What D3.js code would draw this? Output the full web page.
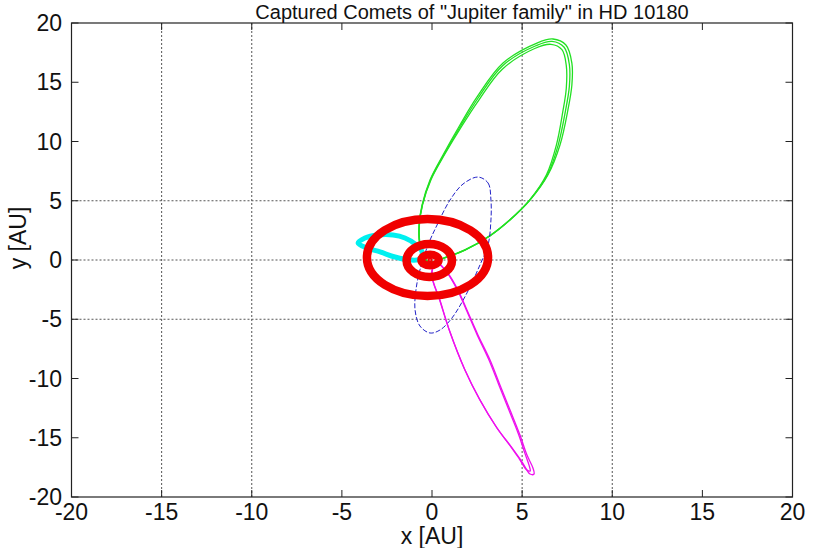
<!DOCTYPE html>
<html><head><meta charset="utf-8">
<script src="https://cdn.jsdelivr.net/npm/d3@7"></script>
<style>body{margin:0;background:#fff}</style>
</head><body>
<svg id="chart" width="814" height="548"></svg>
<script>
const xTicks = [-20,-15,-10,-5,0,5,10,15,20];
const yTicks = [-20,-15,-10,-5,0,5,10,15,20];
const xGrid = [-15,-10,5,10];
const yGrid = [-5,0,5];
const titleText = 'Captured Comets of "Jupiter family" in HD 10180';
const xLabel = "x [AU]";
const yLabel = "y [AU]";

// comet orbits (AU)
const greenLoop1 = [[-0.22,-0.17],[-0.67,1.27],[-0.72,2.95],[-0.55,4.64],[-0.11,6.75],[0.61,8.86],[1.55,11.39],[2.50,13.76],[3.94,16.62],[5.82,18.31],[6.71,18.65],[7.43,18.14],[7.76,16.62],[7.76,14.77],[7.54,12.66],[7.10,9.70],[6.43,7.17],[5.44,5.06],[4.33,3.38],[3.22,2.03],[1.83,0.84],[0.83,0.25]];
const greenLoop2 = [[-0.20,-0.15],[-0.65,1.30],[-0.70,2.95],[-0.52,4.70],[-0.05,6.80],[0.70,8.90],[1.65,11.30],[2.60,13.50],[3.90,16.10],[5.70,17.85],[6.60,18.20],[7.21,17.75],[7.45,16.40],[7.45,14.50],[7.25,12.45],[6.90,9.70],[6.35,7.20],[5.42,5.08],[4.32,3.40],[3.20,2.05],[1.82,0.85],[0.82,0.26]];
const greenLoop3 = [[-0.21,-0.16],[-0.66,1.28],[-0.71,2.95],[-0.53,4.67],[-0.08,6.78],[0.66,8.88],[1.60,11.35],[2.55,13.65],[3.92,16.40],[5.76,18.08],[6.66,18.45],[7.33,17.95],[7.62,16.50],[7.62,14.65],[7.40,12.55],[7.00,9.70],[6.40,7.18],[5.43,5.07],[4.33,3.39],[3.21,2.04],[1.82,0.84],[0.82,0.25]];
const blueLoop = [[2.55,7.00],[3.11,6.50],[3.27,5.06],[3.27,3.38],[3.11,1.27],[2.66,-0.42],[1.94,-2.78],[1.11,-4.89],[0.44,-5.91],[-0.11,-6.16],[-0.67,-5.57],[-0.94,-4.22],[-0.89,-2.53],[-0.67,-0.84],[-0.22,1.27],[0.28,2.95],[1.00,5.06],[1.72,6.41]];
const magentaLoop1 = [[0.22,-0.17],[0.83,-1.01],[1.44,-2.53],[1.94,-4.22],[2.55,-6.33],[3.22,-8.44],[3.77,-10.55],[4.33,-12.66],[4.88,-14.77],[5.27,-16.46],[5.60,-17.55],[5.66,-18.06],[5.44,-18.06],[5.00,-17.05],[4.44,-15.86],[3.61,-14.18],[2.66,-11.81],[1.83,-9.28],[1.00,-6.08],[0.44,-3.38],[0.00,-1.27]];
const magentaLoop2 = [[0.20,-0.15],[0.80,-1.00],[1.40,-2.50],[1.90,-4.20],[2.50,-6.30],[3.15,-8.40],[3.70,-10.50],[4.25,-12.60],[4.80,-14.70],[5.15,-16.30],[5.40,-17.40],[5.45,-17.80],[5.25,-17.70],[4.85,-16.80],[4.35,-15.70],[3.55,-14.05],[2.62,-11.70],[1.80,-9.20],[0.98,-6.02],[0.42,-3.35],[-0.02,-1.25]];
const cyanLoop = [[-4.10,1.43],[-3.72,1.86],[-3.00,2.11],[-2.16,2.11],[-1.50,1.86],[-0.94,1.35],[-0.55,0.68],[-0.67,0.08],[-1.22,0.00],[-2.05,0.25],[-2.88,0.68],[-3.61,1.01]];

// planet orbits (AU): centre and semi-axes
const planetCx = [-0.11, -0.11, -0.15, -0.25];
const planetCy = [0.00, 0.00, -0.04, 0.21];
const planetRx = [0.06, 0.49, 1.26, 3.36];
const planetRy = [0.06, 0.46, 1.39, 3.25];

const svg = d3.select("#chart");
const x = d3.scaleLinear().domain([-20,20]).range([71.5,792.5]);
const y = d3.scaleLinear().domain([-20,20]).range([497,23]);
const font = "'Liberation Sans', Arial, Helvetica, sans-serif";

// grid
svg.append("g").selectAll("line").data(xGrid).join("line")
  .attr("x1", d=>x(d)).attr("x2", d=>x(d)).attr("y1", y(20)).attr("y2", y(-20))
  .attr("stroke","#555").attr("stroke-width",1).attr("stroke-dasharray","2,2");
svg.append("g").selectAll("line").data(yGrid).join("line")
  .attr("y1", d=>y(d)).attr("y2", d=>y(d)).attr("x1", x(-20)).attr("x2", x(20))
  .attr("stroke","#555").attr("stroke-width",1).attr("stroke-dasharray","2,2");

const line = d3.line().x(d=>x(d[0])).y(d=>y(d[1])).curve(d3.curveCatmullRomClosed.alpha(0.5));
const g = svg.append("g");
[greenLoop1, greenLoop2, greenLoop3].forEach(L =>
  g.append("path").attr("d", line(L)).attr("fill","none").attr("stroke","#22e022").attr("stroke-width",1.3));
g.append("path").attr("d", line(blueLoop)).attr("fill","none").attr("stroke","#2222c8").attr("stroke-width",1).attr("stroke-dasharray","5,2");
[magentaLoop1, magentaLoop2].forEach(L =>
  g.append("path").attr("d", line(L)).attr("fill","none").attr("stroke","#ee11ee").attr("stroke-width",1.3));
g.append("path").attr("d", line(cyanLoop)).attr("fill","none").attr("stroke","#00f0f0").attr("stroke-width",5);

// planets
const sw = [3, 8, 8.5, 8.5];
svg.append("g").selectAll("ellipse").data(planetRx).join("ellipse")
  .attr("cx", (d,i)=>x(planetCx[i])).attr("cy", (d,i)=>y(planetCy[i]))
  .attr("rx", (d,i)=>x(planetRx[i]) - x(0)).attr("ry", (d,i)=>y(0) - y(planetRy[i]))
  .attr("fill","none").attr("stroke","#f00000").attr("stroke-width",(d,i)=>sw[i]);

// frame
svg.append("rect").attr("x", x(-20)).attr("y", y(20)).attr("width", x(20)-x(-20)).attr("height", y(-20)-y(20))
  .attr("fill","none").attr("stroke","#222").attr("stroke-width",1.2);

// ticks (inward, all sides)
const tl = 7;
const tg = svg.append("g").attr("stroke","#222").attr("stroke-width",1);
xTicks.forEach(t => {
  tg.append("line").attr("x1",x(t)).attr("x2",x(t)).attr("y1",y(-20)).attr("y2",y(-20)-tl);
  tg.append("line").attr("x1",x(t)).attr("x2",x(t)).attr("y1",y(20)).attr("y2",y(20)+tl);
});
yTicks.forEach(t => {
  tg.append("line").attr("y1",y(t)).attr("y2",y(t)).attr("x1",x(-20)).attr("x2",x(-20)+tl);
  tg.append("line").attr("y1",y(t)).attr("y2",y(t)).attr("x1",x(20)).attr("x2",x(20)-tl);
});

// tick labels
svg.append("g").selectAll("text").data(xTicks).join("text")
  .attr("x", d=>x(d)).attr("y", 520).attr("text-anchor","middle")
  .attr("font-family", font).attr("font-size", 23).attr("fill","#111").text(d=>d);
svg.append("g").selectAll("text").data(yTicks).join("text")
  .attr("x", 62).attr("y", d=>y(d)).attr("dy","0.35em").attr("text-anchor","end")
  .attr("font-family", font).attr("font-size", 23).attr("fill","#111").text(d=>d);

// labels
svg.append("text").attr("x", 432).attr("y", 544).attr("text-anchor","middle")
  .attr("font-family", font).attr("font-size", 23).attr("fill","#111").text(xLabel);
svg.append("text").attr("transform","translate(26,238) rotate(-90)").attr("text-anchor","middle")
  .attr("font-family", font).attr("font-size", 23).attr("fill","#111").text(yLabel);
svg.append("text").attr("x", 472).attr("y", 19).attr("text-anchor","middle")
  .attr("font-family", font).attr("font-size", 20).attr("fill","#111").text(titleText);
</script>
</body></html>
